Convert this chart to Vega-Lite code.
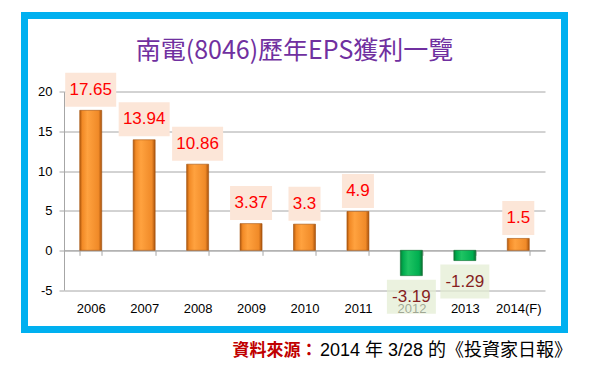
{
  "$schema": "https://vega.github.io/schema/vega-lite/v6.json",
  "autosize": {"type": "none"},
  "padding": {"left": 24.5, "top": 15.5, "right": 35.5, "bottom": 45.5},
  "width": 540,
  "height": 314,
  "background": "white",
  "view": {"fill": "white", "stroke": "#00B0F0", "strokeWidth": 7},
  "config": {
    "locale": {"number": {"decimal": ".", "thousands": ",", "grouping": [3], "currency": ["$", ""], "minus": "-"}}
  },
  "title": {
    "text": "南電(8046)歷年EPS獲利一覽",
    "font": "Noto Sans CJK TC",
    "fontSize": 25,
    "fontWeight": "normal",
    "color": "#7030A0",
    "anchor": "middle",
    "frame": "group",
    "baseline": "alphabetic",
    "offset": 0,
    "dy": 68
  },
  "data": {
    "values": [
      {"year": "2006", "eps": 17.65},
      {"year": "2007", "eps": 13.94},
      {"year": "2008", "eps": 10.86},
      {"year": "2009", "eps": 3.37},
      {"year": "2010", "eps": 3.3},
      {"year": "2011", "eps": 4.9},
      {"year": "2012", "eps": -3.19},
      {"year": "2013", "eps": -1.29},
      {"year": "2014(F)", "eps": 1.5}
    ]
  },
  "encoding": {
    "x": {
      "field": "year",
      "type": "nominal",
      "sort": ["2006", "2007", "2008", "2009", "2010", "2011", "2012", "2013", "2014(F)"],
      "scale": {"domain": ["2006", "2007", "2008", "2009", "2010", "2011", "2012", "2013", "2014(F)"], "range": [39.5, 520.5], "paddingInner": 0.59, "paddingOuter": 0.295},
      "axis": {
        "orient": "bottom",
        "offset": -79.2,
        "domainColor": "#A6A6A6",
        "tickColor": "#A6A6A6",
        "tickSize": 5,
        "tickBand": "extent",
        "labelPadding": 47,
        "labelFont": "Liberation Sans",
        "labelFontSize": 13,
        "labelColor": "#000000",
        "labelAngle": 0,
        "title": "2014 年 3/28 的《投資家日報》",
        "titleX": 295,
        "titleY": 100.4,
        "titleAlign": "left",
        "titleBaseline": "middle",
        "titleFont": "Liberation Sans, Noto Sans CJK TC",
        "titleFontSize": 18,
        "titleFontWeight": "normal",
        "titleColor": "#000000"
      }
    },
    "y": {
      "field": "eps",
      "type": "quantitative",
      "scale": {"domain": [-5, 20], "range": [274.5, 76.2], "nice": false},
      "axis": {
        "values": [-5, 0, 5, 10, 15, 20],
        "offset": -39.5,
        "grid": true,
        "gridColor": "#A6A6A6",
        "domainColor": "#A6A6A6",
        "tickColor": "#A6A6A6",
        "tickSize": 5,
        "labelPadding": 7,
        "labelFont": "Liberation Sans",
        "labelFontSize": 13,
        "labelColor": "#000000",
        "title": "資料來源：",
        "titleAngle": 0,
        "titleX": 168,
        "titleY": 335.2,
        "titleAlign": "left",
        "titleBaseline": "middle",
        "titleFont": "Noto Sans CJK TC",
        "titleFontSize": 17,
        "titleFontWeight": "bold",
        "titleColor": "#C00000"
      }
    }
  },
  "layer": [
    {
      "transform": [{"filter": "datum.eps >= 0"}],
      "mark": {
        "type": "bar",
        "width": 22,
        "stroke": "#A4530E",
        "strokeWidth": 0.6,
        "color": {
          "gradient": "linear", "x1": 0, "x2": 1, "y1": 0, "y2": 0,
          "stops": [
            {"offset": 0, "color": "#B0580C"},
            {"offset": 0.12, "color": "#F28A26"},
            {"offset": 0.35, "color": "#FFA23F"},
            {"offset": 0.85, "color": "#F08A28"},
            {"offset": 1, "color": "#A8520C"}
          ]
        }
      }
    },
    {
      "transform": [{"filter": "datum.eps < 0"}],
      "mark": {
        "type": "bar",
        "width": 22,
        "stroke": "#0B6B2E",
        "strokeWidth": 0.6,
        "color": {
          "gradient": "linear", "x1": 0, "x2": 1, "y1": 0, "y2": 0,
          "stops": [
            {"offset": 0, "color": "#0B7A35"},
            {"offset": 0.12, "color": "#00AA4E"},
            {"offset": 0.35, "color": "#1FC463"},
            {"offset": 0.85, "color": "#00AE50"},
            {"offset": 1, "color": "#0A7032"}
          ]
        }
      }
    },
    {
      "transform": [{"filter": "datum.eps >= 0"}],
      "mark": {"type": "tick", "thickness": 34, "color": "#FCE6D8", "opacity": 1, "yOffset": -20.5},
      "encoding": {
        "size": {
          "condition": [
            {"test": "length(toString(datum.eps)) >= 5", "value": 51},
            {"test": "length(toString(datum.eps)) == 4", "value": 42}
          ],
          "value": 32
        }
      }
    },
    {
      "transform": [{"filter": "datum.eps >= 0"}],
      "mark": {"type": "text", "yOffset": -20.5, "baseline": "middle", "fontSize": 17, "font": "Liberation Sans", "color": "#FF0000"},
      "encoding": {"text": {"field": "eps", "type": "quantitative"}}
    },
    {
      "transform": [{"filter": "datum.eps < 0"}],
      "mark": {"type": "tick", "thickness": 34, "color": "#E3ECD2", "opacity": 0.7, "yOffset": 21},
      "encoding": {"size": {"value": 49}}
    },
    {
      "transform": [{"filter": "datum.eps < 0"}],
      "mark": {"type": "text", "yOffset": 21, "baseline": "middle", "fontSize": 17, "font": "Liberation Sans", "color": "#861F1F"},
      "encoding": {"text": {"field": "eps", "type": "quantitative"}}
    }
  ]
}
